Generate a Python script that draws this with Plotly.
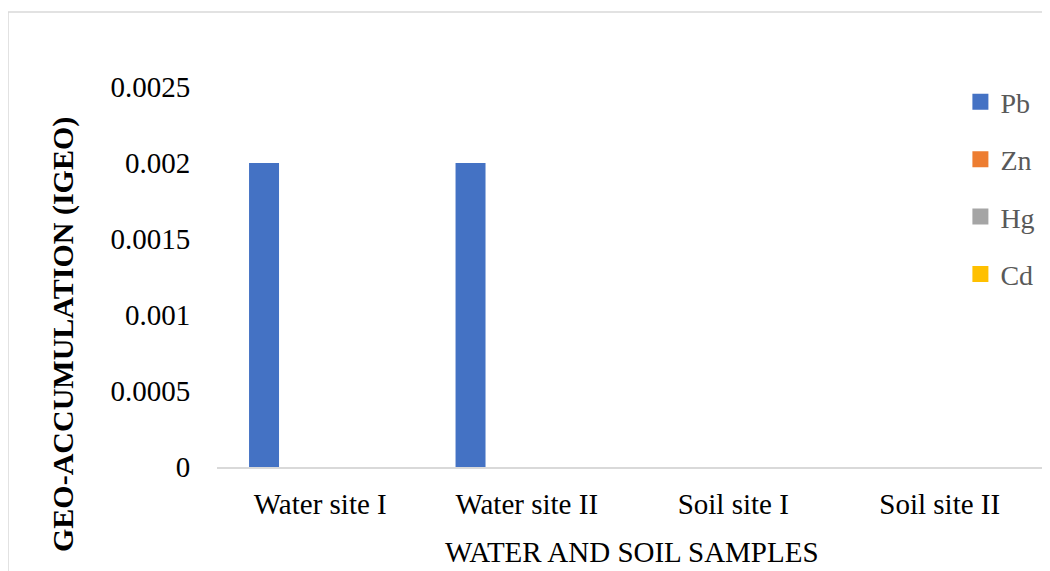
import plotly.graph_objects as go

categories = ["Water site I", "Water site II", "Soil site I", "Soil site II"]
pb = [0.002, 0.002, 0, 0]
zn = [0, 0, 0, 0]
hg = [0, 0, 0, 0]
cd = [0, 0, 0, 0]
series = [("Pb", pb, "#4472C4"), ("Zn", zn, "#ED7D31"), ("Hg", hg, "#A5A5A5"), ("Cd", cd, "#FFC000")]
y_ticks = [0, 0.0005, 0.001, 0.0015, 0.002, 0.0025]
y_labels = ["0", "0.0005", "0.001", "0.0015", "0.002", "0.0025"]

FONT = "Liberation Serif"

fig = go.Figure()
for name, vals, col in series:
    fig.add_trace(go.Bar(x=categories, y=vals, name=name, marker=dict(color=col, line=dict(width=0)),
                         legendgroup=name, showlegend=False))
    # legend entry with a larger square swatch
    fig.add_trace(go.Scatter(x=[None], y=[None], mode="markers", name=name, legendgroup=name,
                             marker=dict(symbol="square", size=16, color=col), showlegend=True))

fig.update_layout(
    width=1042, height=563,
    margin=dict(l=209, r=7, t=79, b=104),
    paper_bgcolor="white", plot_bgcolor="white",
    barmode="group", bargap=0.274, bargroupgap=0.2,
    font=dict(family=FONT, size=29, color="black"),
    showlegend=True,
    legend=dict(x=0.9, y=1.026, xanchor="left", yanchor="top",
                font=dict(family=FONT, size=28, color="#595959"),
                bgcolor="rgba(0,0,0,0)", tracegroupgap=18, traceorder="grouped",
                itemwidth=30),
    xaxis=dict(showline=True, linecolor="#D9D9D9", linewidth=1.5, showgrid=False,
               ticks="outside", ticklen=10, tickcolor="rgba(0,0,0,0)",
               tickfont=dict(family=FONT, size=29, color="black")),
    yaxis=dict(range=[0, 0.0025], tickvals=y_ticks, ticktext=y_labels, showgrid=False,
               zeroline=False, showline=False, ticks="outside", ticklen=20,
               tickcolor="rgba(0,0,0,0)",
               tickfont=dict(family=FONT, size=29, color="black")),
    shapes=[dict(type="rect", xref="paper", yref="paper",
                 x0=(8 - 217) / 826, x1=1.03, y0=-0.4, y1=(467 - 12) / 380,
                 line=dict(color="#D9D9D9", width=1.5), fillcolor="rgba(0,0,0,0)", layer="below")],
    annotations=[
        dict(text="<b>GEO-ACCUMULATION (IGEO)</b>", xref="paper", yref="paper",
             x=(63 - 217) / 826, y=(467 - 335) / 380, xanchor="center", yanchor="middle",
             textangle=-90, showarrow=False, font=dict(family=FONT, size=30, color="black")),
        dict(text="WATER AND SOIL SAMPLES", xref="paper", yref="paper",
             x=0.502, y=(467 - 552) / 380, xanchor="center", yanchor="middle",
             showarrow=False, font=dict(family=FONT, size=29, color="black")),
    ],
)

fig.write_html("out.html")
